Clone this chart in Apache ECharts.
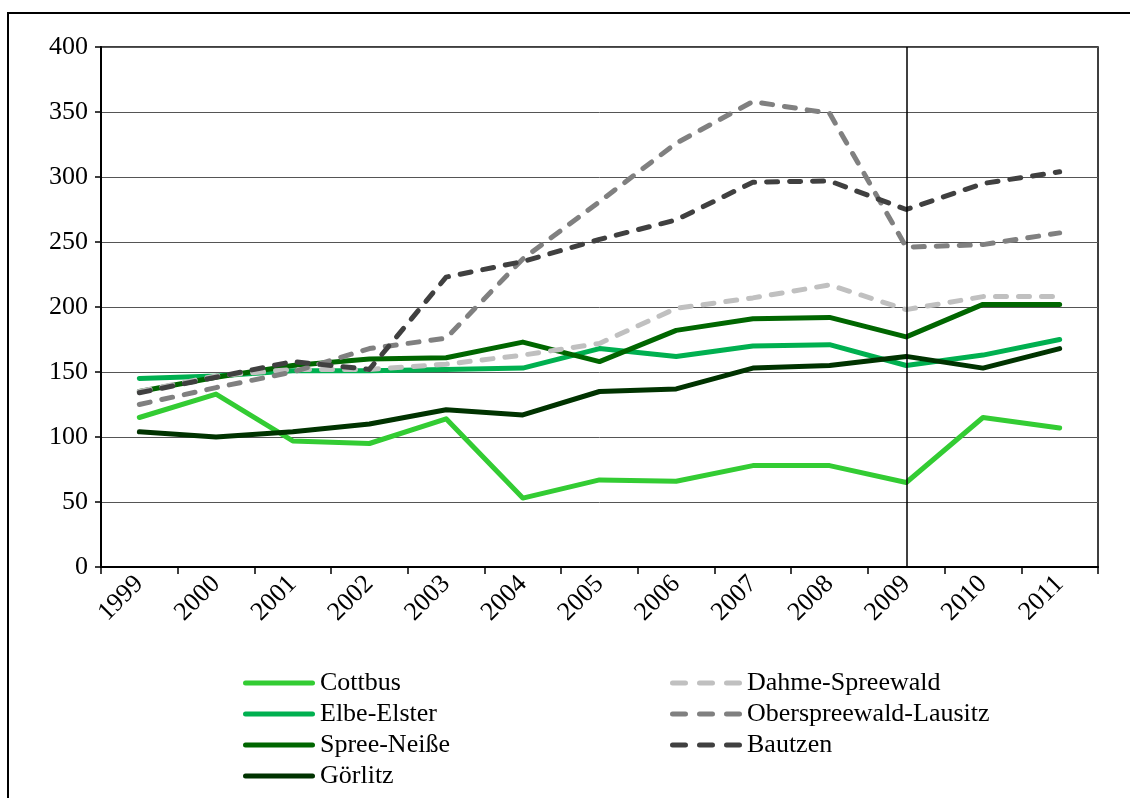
<!DOCTYPE html>
<html>
<head>
<meta charset="utf-8">
<script src="https://cdn.jsdelivr.net/npm/echarts@6/dist/echarts.min.js"></script>
<style>
html,body{margin:0;padding:0;background:#fff;}
#chart{width:1130px;height:798px;}
</style>
</head>
<body>
<div id="chart"></div>
<script>
const years = ['1999','2000','2001','2002','2003','2004','2005','2006','2007','2008','2009','2010','2011'];
const yTicks = [0, 50, 100, 150, 200, 250, 300, 350, 400];

const cottbus        = [115, 133, 97, 95, 114, 53, 67, 66, 78, 78, 65, 115, 107];
const elbeElster     = [145, 147, 151, 151, 152, 153, 168, 162, 170, 171, 155, 163, 175];
const spreeNeisse    = [135, 146, 155, 160, 161, 173, 158, 182, 191, 192, 177, 202, 202];
const goerlitz       = [104, 100, 104, 110, 121, 117, 135, 137, 153, 155, 162, 153, 168];
const dahmeSpreewald = [135, 147, 152, 152, 156, 163, 172, 199, 207, 217, 198, 208, 208];
const oberspreewald  = [125, 138, 150, 168, 176, 237, 281, 326, 358, 349, 246, 248, 257];
const bautzen        = [134, 146, 158, 152, 223, 235, 252, 267, 296, 297, 275, 295, 304];

const FONT = '"Liberation Serif", "Times New Roman", serif';
const FS = 26;

function solid(name, data, color) {
  return {
    name, type: 'line', data, symbol: 'none', smooth: false,
    lineStyle: { color, width: 5, cap: 'round', join: 'round' },
    itemStyle: { color },
    z: 3
  };
}
function dashed(name, data, color) {
  return {
    name, type: 'line', data, symbol: 'none', smooth: false,
    lineStyle: { color, width: 5, type: [11, 12], cap: 'round', join: 'round' },
    itemStyle: { color },
    z: 3
  };
}

const series = [
  solid('Cottbus', cottbus, '#33CC33'),
  solid('Elbe-Elster', elbeElster, '#00B050'),
  solid('Spree-Neiße', spreeNeisse, '#006600'),
  solid('Görlitz', goerlitz, '#003300'),
  dashed('Dahme-Spreewald', dahmeSpreewald, '#C0C0C0'),
  dashed('Oberspreewald-Lausitz', oberspreewald, '#808080'),
  dashed('Bautzen', bautzen, '#404040')
];
series[0].markLine = {
  silent: true, symbol: 'none', label: { show: false },
  lineStyle: { color: '#000', width: 1.5, type: 'solid' },
  data: [{ xAxis: '2009' }]
};

const SOLID_ICON = 'path://M2.5,0 L69.5,0 A2.5,2.5 0 0 1 69.5,5 L2.5,5 A2.5,2.5 0 0 1 2.5,0 Z';
const DASH_ICON = 'path://M2.5,0 L15.5,0 A2.5,2.5 0 0 1 15.5,5 L2.5,5 A2.5,2.5 0 0 1 2.5,0 Z ' +
  'M29.5,0 L42.5,0 A2.5,2.5 0 0 1 42.5,5 L29.5,5 A2.5,2.5 0 0 1 29.5,0 Z ' +
  'M56.5,0 L69.5,0 A2.5,2.5 0 0 1 69.5,5 L56.5,5 A2.5,2.5 0 0 1 56.5,0 Z';

const legendLayout = [
  { name: 'Cottbus', left: 243, row: 0, icon: SOLID_ICON },
  { name: 'Elbe-Elster', left: 243, row: 1, icon: SOLID_ICON },
  { name: 'Spree-Neiße', left: 243, row: 2, icon: SOLID_ICON },
  { name: 'Görlitz', left: 243, row: 3, icon: SOLID_ICON },
  { name: 'Dahme-Spreewald', left: 670, row: 0, icon: DASH_ICON },
  { name: 'Oberspreewald-Lausitz', left: 670, row: 1, icon: DASH_ICON },
  { name: 'Bautzen', left: 670, row: 2, icon: DASH_ICON }
];
const legends = legendLayout.map(l => ({
  data: [{ name: l.name, icon: l.icon }],
  left: l.left, top: 670 + l.row * 31,
  padding: 0,
  itemWidth: 72, itemHeight: 5,
  textStyle: { fontFamily: FONT, fontSize: FS, color: '#000' }
}));

const chart = echarts.init(document.getElementById('chart'), null, { renderer: 'canvas' });
chart.setOption({
  animation: false,
  backgroundColor: '#fff',
  graphic: [{
    type: 'rect', shape: { x: 8, y: 13, width: 1140, height: 800 },
    style: { fill: 'none', stroke: '#000', lineWidth: 2 }, z: -1
  }],
  grid: {
    left: 101, right: 32, top: 47, bottom: 231,
    show: true, borderColor: '#000', borderWidth: 1.5, backgroundColor: 'transparent'
  },
  legend: legends,
  xAxis: {
    type: 'category', data: years, boundaryGap: true,
    axisLine: { lineStyle: { color: '#000', width: 2 } },
    axisTick: { show: true, length: 7, lineStyle: { color: '#000', width: 1.5 } },
    axisLabel: { rotate: 45, fontFamily: FONT, fontSize: FS, color: '#000', margin: 13 },
    splitLine: { show: false }
  },
  yAxis: {
    type: 'value', min: yTicks[0], max: yTicks[yTicks.length - 1], interval: 50,
    axisLine: { show: true, lineStyle: { color: '#000', width: 2 } },
    axisTick: { show: true, length: 6, lineStyle: { color: '#000', width: 1.5 } },
    axisLabel: { fontFamily: FONT, fontSize: FS, color: '#000', margin: 13 },
    splitLine: { show: true, lineStyle: { color: '#555', width: 1 } }
  },
  series
});
</script>
</body>
</html>
